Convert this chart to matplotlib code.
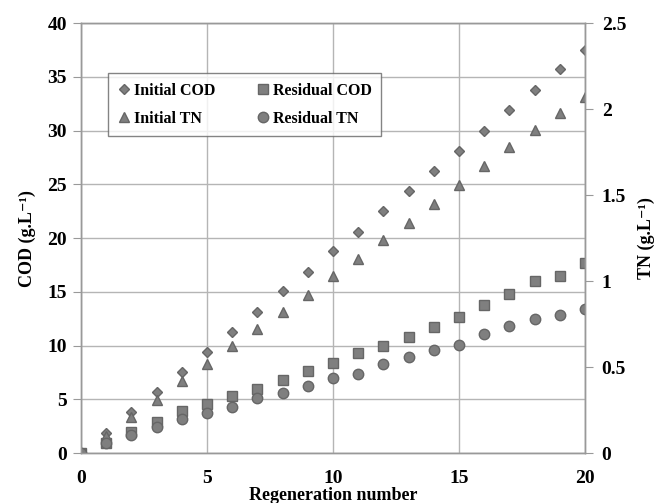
import matplotlib.pyplot as plt

# regeneration number
regen = list(range(21))

# COD values (g/L)
initial_cod = [0, 1.86, 3.8, 5.7, 7.5, 9.4, 11.3, 13.1, 15.1, 16.8, 18.8,
               20.6, 22.5, 24.4, 26.2, 28.1, 30.0, 31.9, 33.8, 35.7, 37.5]
residual_cod = [0, 0.93, 2.0, 2.9, 3.9, 4.6, 5.3, 6.0, 6.8, 7.6, 8.4,
                9.3, 9.95, 10.8, 11.7, 12.7, 13.8, 14.8, 16.0, 16.5, 17.7]

# TN values (g/L)
initial_tn = [0, 0.1, 0.21, 0.31, 0.42, 0.52, 0.62, 0.72, 0.82, 0.92, 1.03,
              1.13, 1.24, 1.34, 1.45, 1.56, 1.67, 1.78, 1.88, 1.98, 2.07]
residual_tn = [0, 0.06, 0.105, 0.15, 0.2, 0.235, 0.265, 0.32, 0.35, 0.39, 0.435,
               0.46, 0.52, 0.56, 0.6, 0.63, 0.69, 0.74, 0.78, 0.8, 0.84]

plt.rcParams['font.family'] = ['Liberation Serif', 'DejaVu Serif']
plt.rcParams['font.weight'] = 'bold'

fig = plt.figure(figsize=(6.58, 5.03), dpi=100)
ax = fig.add_axes([0.123, 0.0994, 0.766, 0.8546])
ax2 = ax.twinx()

gray = '#7f7f7f'
edge = '#666666'

h1, = ax.plot(regen, initial_cod, 'D', color=gray, mec=edge, ms=5.5, label='Initial COD')
h2, = ax.plot(regen, residual_cod, 's', color=gray, mec=edge, ms=7, label='Residual COD')
h3, = ax2.plot(regen, initial_tn, '^', color=gray, mec=edge, ms=7.5, label='Initial TN')
h4, = ax2.plot(regen, residual_tn, 'o', color=gray, mec=edge, ms=7.5, label='Residual TN')

ax.set_xlim(0, 20)
ax.set_ylim(0, 40)
ax2.set_ylim(0, 2.5)
ax.set_xticks([0, 5, 10, 15, 20])
ax.set_yticks(range(0, 41, 5))
ax2.set_yticks([0, 0.5, 1, 1.5, 2, 2.5])
ax2.set_yticklabels(['0', '0.5', '1', '1.5', '2', '2.5'])

ax.grid(True, color='#b5b5b5', linewidth=1)
ax.set_axisbelow(True)

for a in (ax, ax2):
    for s in a.spines.values():
        s.set_color('#999999')
        s.set_linewidth(1)
ax.tick_params(axis='y', length=6, color='#999999', labelsize=14, pad=4)
ax.tick_params(axis='x', length=0, labelsize=14, pad=12)
ax2.tick_params(axis='y', length=6, color='#999999', labelsize=14, pad=6)
for lbl in ax.get_xticklabels() + ax.get_yticklabels() + ax2.get_yticklabels():
    lbl.set_fontweight('bold')

ax.set_xlabel('Regeneration number', fontsize=13, fontweight='bold', labelpad=0)
ax.set_ylabel('COD (g.L⁻¹)', fontsize=13, fontweight='bold', labelpad=8)
ax2.set_ylabel('TN (g.L⁻¹)', fontsize=13, fontweight='bold', labelpad=8)

leg = ax.legend(handles=[h1, h3, h2, h4], ncol=2, loc='upper left',
                bbox_to_anchor=(0.054, 0.884), prop={'size': 11.5, 'weight': 'bold'},
                frameon=True, fancybox=False, edgecolor='#666666', handletextpad=0.2,
                columnspacing=2.6, handlelength=0.8, borderpad=0.6,
                labelspacing=0.75, borderaxespad=0)
leg.get_frame().set_linewidth(1)

fig.savefig('out.png', dpi=100)
